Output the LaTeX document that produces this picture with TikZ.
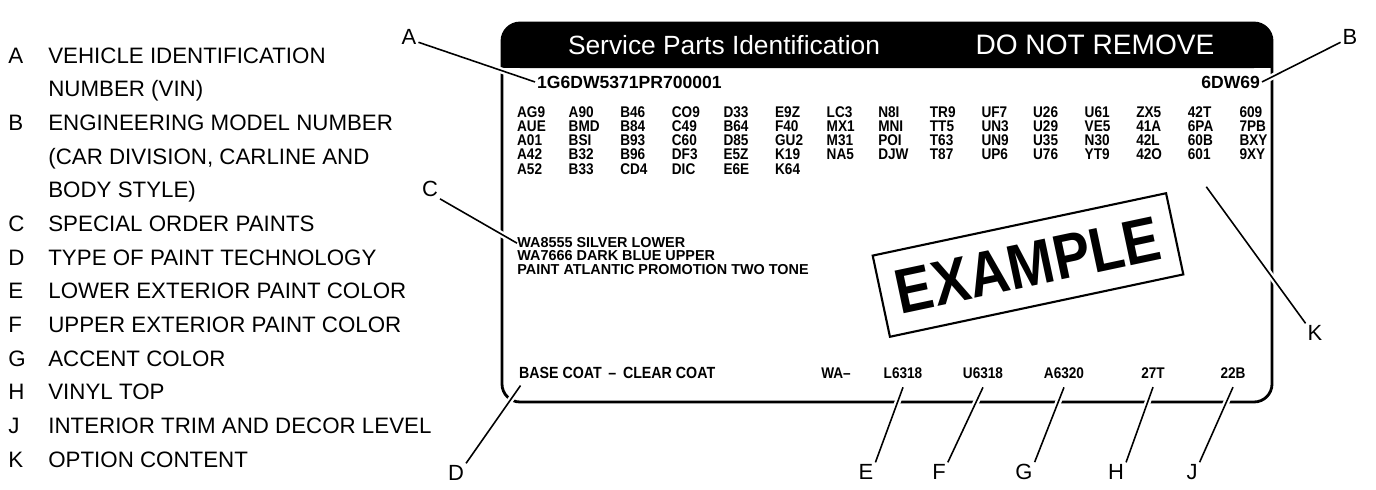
\documentclass[tikz,border=0pt]{standalone}
\usepackage{fontspec}
\setmainfont{Liberation Sans}
\newfontfamily\platefont[FakeStretch=0.88]{Liberation Sans}
\usepackage{tikz}
\usetikzlibrary{positioning, calc}

\begin{document}
\begin{tikzpicture}[
  x=0.02cm, y=-0.02cm,
  item/.style    = {anchor=base west, inner sep=0pt, font=\fontsize{12.7}{15}\selectfont},
  callout/.style = {inner sep=1pt, font=\fontsize{12.5}{15}\selectfont},
  code/.style    = {anchor=base west, inner sep=1pt, font=\platefont\bfseries\fontsize{8.8}{9}\selectfont},
  tint/.style    = {code, anchor=base},
  paint/.style   = {anchor=north west, inner sep=0pt, align=left,
                    font=\bfseries\fontsize{8.2}{7.6}\selectfont},
  head/.style    = {text=white, inner sep=0pt, font=\fontsize{15}{18}\selectfont},
  stamp/.style   = {draw, line width=1.2pt, inner sep=0pt, minimum width=6cm,
                    minimum height=1.66cm, font=\platefont\bfseries\fontsize{36}{40}\selectfont},
  plate/.style   = {line width=1.6pt, rounded corners=0.36cm},
  leader/.style  = {line width=0.9pt,
                    preaction={draw=white, line width=3.5pt, shorten <=3pt, shorten >=3pt}},
]
  \useasboundingbox (0,0) rectangle (1376,490);

  % key list
  \foreach \r/\l in {0/A, 2/B, 5/C, 6/D, 7/E, 8/F, 9/G, 10/H, 11/J, 12/K}
    \node[item] (key-\r) at (8, 63+33.67*\r) {\l};
  \foreach \r/\t in {0/VEHICLE IDENTIFICATION, 1/NUMBER (VIN),
      2/ENGINEERING MODEL NUMBER, 3/{(CAR DIVISION, CARLINE AND}, 4/BODY STYLE),
      5/SPECIAL ORDER PAINTS, 6/TYPE OF PAINT TECHNOLOGY, 7/LOWER EXTERIOR PAINT COLOR,
      8/UPPER EXTERIOR PAINT COLOR, 9/ACCENT COLOR, 10/VINYL TOP,
      11/INTERIOR TRIM AND DECOR LEVEL, 12/OPTION CONTENT}
    \node[item] (txt-\r) at (48, 63+33.67*\r) {\t};

  % the label
  \fill[rounded corners=0.36cm] (502,23) rectangle (1272,68);
  \fill (502,45) rectangle (1272,68);
  \draw[plate] (502,23) rectangle (1272,402);
  \node[head] (title) at (724,45) {Service Parts Identification};
  \node[head, font=\fontsize{16}{18}\selectfont] (warn) at (1095,45) {DO NOT REMOVE};

  \node[code, font=\bfseries\fontsize{10}{11}\selectfont] (vin) at (535,88) {1G6DW5371PR700001};
  \node[code, anchor=base east, font=\bfseries\fontsize{10}{11}\selectfont] (model) at (1262,88) {6DW69};

  \foreach \row [count=\r from 0] in {
      {AG9,A90,B46,CO9,D33,E9Z,LC3,N8I,TR9,UF7,U26,U61,ZX5,42T,609},
      {AUE,BMD,B84,C49,B64,F40,MX1,MNI,TT5,UN3,U29,VE5,41A,6PA,7PB},
      {A01,BSI,B93,C60,D85,GU2,M31,POI,T63,UN9,U35,N30,42L,60B,BXY},
      {A42,B32,B96,DF3,E5Z,K19,NA5,DJW,T87,UP6,U76,YT9,42O,601,9XY},
      {A52,B33,CD4,DIC,E6E,K64}}
    \foreach \code [count=\c from 0] in \row
      \node[code] (c-\r-\c) at (515+51.6*\c, 117+14.3*\r) {\code};

  \node[paint] (paints) at (517,237)
    {WA8555 SILVER LOWER\\WA7666 DARK BLUE UPPER\\PAINT ATLANTIC PROMOTION TWO TONE};

  \node[stamp, rotate=12] (stamp) at (1028,265) {EXAMPLE};

  \node[code, font=\platefont\bfseries\fontsize{9.2}{10}\selectfont] (base) at (517,378) {BASE COAT \,–\, CLEAR COAT};
  \node[tint] (wa)     at (836,378)  {WA–};
  \node[tint] (lower)  at (903,378)  {L6318};
  \node[tint] (upper)  at (983,378)  {U6318};
  \node[tint] (accent) at (1064,378) {A6320};
  \node[tint] (vinyl)  at (1153,378) {27T};
  \node[tint] (trim)   at (1233,378) {22B};

  % callouts
  \node[callout] (lA) at (409,37)  {A};
  \node[callout] (lB) at (1350,37) {B};
  \node[callout] (lC) at (430,189) {C};
  \node[callout] (lD) at (456,473) {D};
  \node[callout] (lE) at (866,472) {E};
  \node[callout] (lF) at (939,472) {F};
  \node[callout] (lG) at (1024,472) {G};
  \node[callout] (lH) at (1116,472) {H};
  \node[callout] (lJ) at (1192,472) {J};
  \node[callout] (lK) at (1315,333) {K};

  \draw[leader] ([yshift=-3pt]lA.east) -- (vin.west);
  \draw[leader] ([yshift=-3pt]lB.west) -- (model.east);
  \draw[leader] (lC.south east) -- ([yshift=-3.5pt]paints.north west);
  \draw[leader] (lD.north east) -- ([shift={(2pt,-3pt)}]base.south west);
  \draw[leader] (lE.north east) -- ([yshift=-4pt]lower.south);
  \draw[leader] (lF.north east) -- ([yshift=-4pt]upper.south);
  \draw[leader] (lG.north east) -- ([yshift=-4pt]accent.south);
  \draw[leader] (lH.north east) -- ([yshift=-4pt]vinyl.south);
  \draw[leader] (lJ.north east) -- ([yshift=-4pt]trim.south);
  \draw[leader] (lK.north west) -- ([shift={(4pt,-14pt)}]c-3-13.south);
\end{tikzpicture}
\end{document}
